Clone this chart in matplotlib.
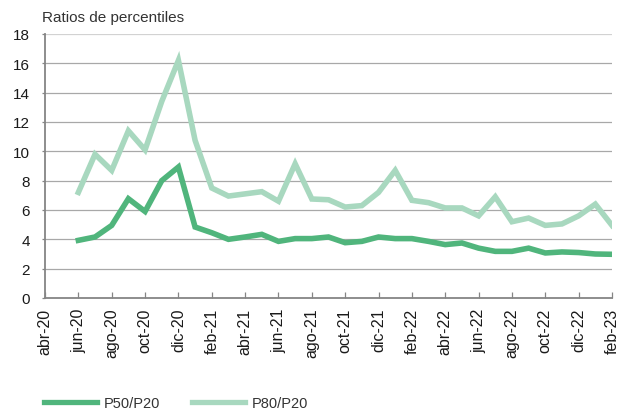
import matplotlib.pyplot as plt
from matplotlib import font_manager
from matplotlib.lines import Line2D

plt.rcParams["font.family"] = ["Liberation Sans", "DejaVu Sans"]

# Monthly axis from abr-20 to feb-23; series start at jun-20
months = ["ene", "feb", "mar", "abr", "may", "jun", "jul", "ago", "sep", "oct", "nov", "dic"]
month_labels = []
for year in (20, 21, 22, 23):
    for m in months:
        month_labels.append(f"{m}-{year}")
month_labels = month_labels[3:3 + 35]  # abr-20 .. feb-23

p50_p20 = [3.93, 4.16, 4.95, 6.77, 5.9, 8.0, 8.93, 4.84, 4.45, 4.0, 4.16, 4.34,
           3.86, 4.05, 4.05, 4.16, 3.77, 3.86, 4.16, 4.05, 4.05, 3.86, 3.64, 3.75,
           3.4, 3.18, 3.18, 3.4, 3.07, 3.14, 3.1, 3.0, 2.98]
p80_p20 = [7.2, 9.8, 8.7, 11.4, 10.1, 13.4, 16.2, 10.75, 7.5, 6.95, 7.1, 7.25,
           6.6, 9.15, 6.75, 6.7, 6.2, 6.3, 7.2, 8.7, 6.66, 6.5, 6.14, 6.14,
           5.6, 6.9, 5.2, 5.45, 4.95, 5.05, 5.6, 6.4, 4.95]
start = 2  # jun-20

c50 = "#50b57c"
c80 = "#a8d8bf"
axis_grey = "#858585"

installed = {f.name for f in font_manager.fontManager.ttflist}
legend_family = "Liberation Sans Narrow" if "Liberation Sans Narrow" in installed else "Liberation Sans"
legend_size = 12.5 if legend_family == "Liberation Sans Narrow" else 10.5

fig = plt.figure(figsize=(6.2, 4.1), dpi=100)
ax = fig.add_axes([45 / 620, 1 - 299 / 410, 567 / 620, 264 / 410])

x = list(range(start, start + len(p50_p20)))
ax.plot(x, p80_p20, color=c80, lw=4, solid_joinstyle="miter", zorder=3)
ax.plot(x, p50_p20, color=c50, lw=4, solid_joinstyle="miter", zorder=4)

ax.set_xlim(0, 34)
ax.set_ylim(0, 18)
ax.set_yticks(range(0, 19, 2))
ax.set_xticks(range(0, 35, 2))
ax.set_xticklabels(month_labels[::2], rotation=90)

for v in range(2, 19, 2):
    ax.axhline(v, color="#d2d2d2" if v == 18 else "#a8a8a8", lw=0.9, zorder=1)

for s in ("top", "right"):
    ax.spines[s].set_visible(False)
for s in ("left", "bottom"):
    ax.spines[s].set_color(axis_grey)
    ax.spines[s].set_linewidth(1.3)

ax.tick_params(axis="x", direction="in", length=4, color=axis_grey, width=0.9,
               labelsize=11.5, labelcolor="#1a1a1a", pad=7)
ax.tick_params(axis="y", direction="out", length=2, color=axis_grey, width=0.9,
               labelsize=11, labelcolor="#1a1a1a", pad=9)

fig.text(42 / 620, 1 - 18 / 410, "Ratios de percentiles", fontsize=11,
         color="#333333", va="center", ha="left")

handles = [Line2D([], [], color=c50, lw=3.8), Line2D([], [], color=c80, lw=3.8)]
fig.legend(handles, ["P50/P20", "P80/P20"], loc="center left",
           bbox_to_anchor=(44 / 620, 1 - 404 / 410), ncol=2, frameon=False,
           prop={"family": legend_family, "size": legend_size},
           handlelength=3.6, columnspacing=2.2, handletextpad=0.5,
           labelcolor="#333333", borderaxespad=0, borderpad=0)

fig.savefig("out.png", dpi=100)
